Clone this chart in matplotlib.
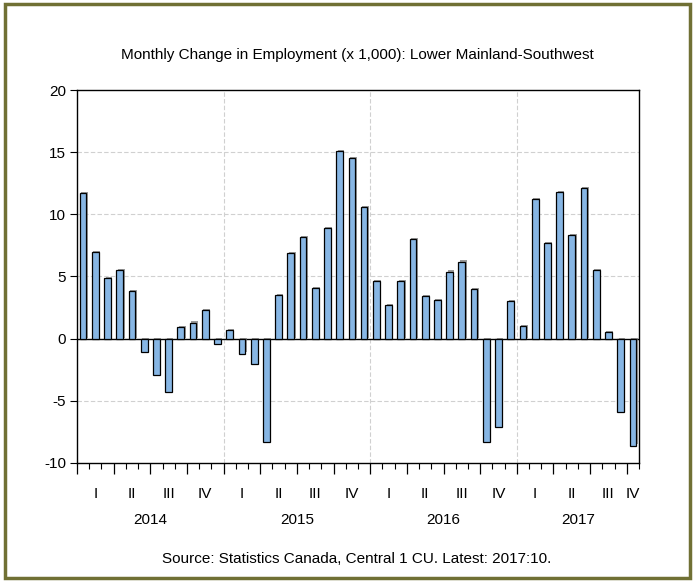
import numpy as np
import matplotlib
matplotlib.use("Agg")
import matplotlib.pyplot as plt
import matplotlib.patheffects as pe
import matplotlib.transforms as mtrans
from matplotlib.patches import Rectangle

plt.rcParams['font.family'] = ['Liberation Sans', 'DejaVu Sans']

# monthly change, Jan 2014 .. Oct 2017 (thousands)
changes = [11.7, 7.0, 4.9, 5.5, 3.8, -1.1, -2.9, -4.3, 0.9, 1.3, 2.3, -0.4,
           0.7, -1.2, -2.0, -8.3, 3.5, 6.9, 8.2, 4.1, 8.9, 15.1, 14.5, 10.6,
           4.6, 2.7, 4.6, 8.0, 3.4, 3.1, 5.4, 6.2, 4.0, -8.3, -7.1, 3.0,
           1.0, 11.2, 7.7, 11.8, 8.3, 12.1, 5.5, 0.5, -5.9, -8.6]
years = ['2014', '2015', '2016', '2017']
quarters = ['I', 'II', 'III', 'IV']
yticks = [-10, -5, 0, 5, 10, 15, 20]

title = 'Monthly Change in Employment (x 1,000): Lower Mainland-Southwest'
source = 'Source: Statistics Canada, Central 1 CU. Latest: 2017:10.'

n = len(changes)
x = np.arange(n) + 0.5
fs = 11

fig = plt.figure(figsize=(6.94, 5.81), dpi=100)
ax = fig.add_axes([77/694, 1-463/581, (639-77)/694, (463-90)/581])

# grid
for v in yticks:
    if v not in (-10, 0, 20):
        ax.axhline(v, color='#d0d0d0', lw=0.8, ls=(0, (4, 2)), zorder=0)
for k in range(1, len(years)):
    ax.axvline(12*k, color='#d0d0d0', lw=0.8, ls=(0, (4, 2)), zorder=0)

bars = ax.bar(x, changes, width=0.55, color='#87b6e4', edgecolor='black',
              linewidth=0.9, zorder=3)
for b in bars:
    b.set_path_effects([pe.SimplePatchShadow(offset=(1.0, 0.8), shadow_rgbFace='#707070', alpha=0.7),
                        pe.Normal()])
ax.axhline(0, color='black', lw=1.0, zorder=2)

ax.set_xlim(0, n)
ax.set_ylim(-10, 20)
ax.set_yticks(yticks)
ax.set_yticklabels([str(v) for v in yticks], fontsize=fs)
ax.tick_params(axis='y', direction='out', length=5, width=0.8, pad=3)

ax.set_xticks(range(0, n+1, 3))
ax.set_xticks(range(0, n+1), minor=True)
ax.tick_params(axis='x', which='major', direction='out', length=8, width=0.9, labelbottom=False)
ax.tick_params(axis='x', which='minor', direction='out', length=4, width=0.8)
for s in ax.spines.values():
    s.set_linewidth(1.0)

trans = mtrans.blended_transform_factory(ax.transData, ax.transAxes)
for q in range(0, n, 3):
    lo, hi = q, min(q + 3, n)
    ax.text((lo + hi) / 2, -0.082, quarters[(q // 3) % 4], transform=trans,
            ha='center', va='center', fontsize=fs)
for k, yr in enumerate(years):
    lo, hi = 12*k, min(12*k + 12, n)
    ax.text((lo + hi) / 2, -0.152, yr, transform=trans,
            ha='center', va='center', fontsize=fs)

fig.text(357/694, 1-55/581, title, ha='center', va='center', fontsize=fs)
fig.text(357/694, 1-559/581, source, ha='center', va='center', fontsize=fs)

fig.patches.append(Rectangle((5/694, 3/581), 685/694, 574/581, transform=fig.transFigure,
                             fill=False, edgecolor='#707034', linewidth=2.5))

fig.savefig('out.png', dpi=100, facecolor='white')
